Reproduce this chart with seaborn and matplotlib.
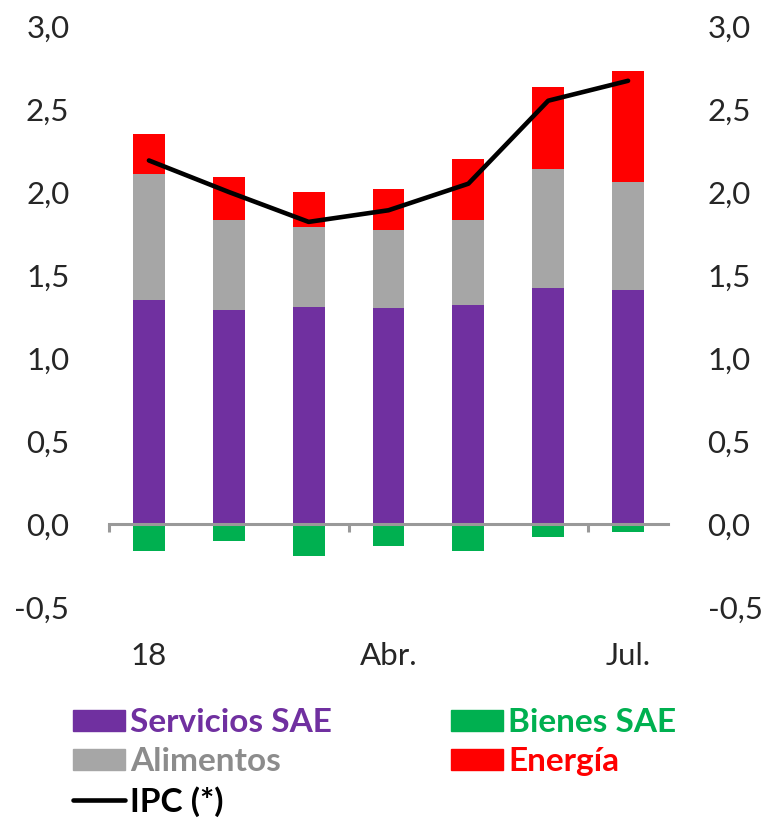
import numpy as np
import pandas as pd
import matplotlib
matplotlib.use("Agg")
import matplotlib.pyplot as plt
from matplotlib.patches import Patch
from matplotlib.lines import Line2D
from matplotlib.ticker import FuncFormatter
import seaborn as sns

# monthly contributions to headline inflation (pp), 2018
months = ["Ene.", "Feb.", "Mar.", "Abr.", "May.", "Jun.", "Jul."]
servicios = [1.35, 1.29, 1.31, 1.30, 1.32, 1.42, 1.41]
alimentos = [0.76, 0.54, 0.48, 0.47, 0.51, 0.72, 0.65]
energia = [0.24, 0.26, 0.21, 0.25, 0.37, 0.49, 0.67]
bienes = [-0.16, -0.10, -0.19, -0.13, -0.16, -0.08, -0.05]
ipc = [2.19, 2.00, 1.82, 1.89, 2.05, 2.55, 2.67]

tick_pos = [0, 3, 6]
tick_labels = ["18", "Abr.", "Jul."]

PURPLE = "#7030A0"
GREEN = "#00B050"
GREY = "#A6A6A6"
RED = "#FF0000"
AXIS_GREY = "#999999"

sns.set_style("white")
plt.rcParams["font.family"] = ["Lato", "DejaVu Sans"]

df = pd.DataFrame({
    "mes": months,
    "servicios": servicios,
    "alimentos": alimentos,
    "energia": energia,
    "bienes": bienes,
    "ipc": ipc,
})
# cumulative tops for the positive stack (drawn back to front)
df["top_serv"] = df["servicios"]
df["top_alim"] = df["top_serv"] + df["alimentos"]
df["top_ener"] = df["top_alim"] + df["energia"]

fig = plt.figure(figsize=(7.61, 8.19), dpi=100)
ax = fig.add_axes([109 / 761, 1 - 607 / 819, 559 / 761, 581 / 819])

bar_kw = dict(x="mes", ax=ax, width=0.4, saturation=1, errorbar=None, linewidth=0)
sns.barplot(data=df, y="top_ener", color=RED, **bar_kw)
sns.barplot(data=df, y="top_alim", color=GREY, **bar_kw)
sns.barplot(data=df, y="top_serv", color=PURPLE, **bar_kw)
sns.barplot(data=df, y="bienes", color=GREEN, **bar_kw)

sns.lineplot(data=df, x="mes", y="ipc", ax=ax, color="black", linewidth=3.3,
             solid_capstyle="round", solid_joinstyle="round", sort=False)

ax.set_xlim(-0.5, 6.5)
ax.set_ylim(-0.5, 3.0)
ax.set_xlabel("")
ax.set_ylabel("")

for side in ["top", "right", "left"]:
    ax.spines[side].set_visible(False)
ax.spines["bottom"].set_position(("data", 0))
ax.spines["bottom"].set_color(AXIS_GREY)
ax.spines["bottom"].set_linewidth(2.2)
ax.spines["bottom"].set_zorder(5)

# boundary ticks on the zero line, labels further down
ax.set_xticks([-0.5, 2.5, 5.5])
ax.set_xticklabels([])
ax.tick_params(axis="x", which="major", direction="out", length=6, width=2.2,
               color=AXIS_GREY, bottom=True)
ax.set_xticks(tick_pos, minor=True)
ax.set_xticklabels(tick_labels, minor=True)
ax.tick_params(axis="x", which="minor", length=0, pad=85, labelsize=22.5)

ax.set_yticks(np.arange(-0.5, 3.01, 0.5))
ax.yaxis.set_major_formatter(FuncFormatter(lambda v, p: f"{v:.1f}".replace(".", ",")))
ax.tick_params(axis="y", left=False, right=False, labelleft=True, labelright=True,
               pad=25, labelsize=22.5)

leg_kw = dict(loc="upper left", frameon=False, borderpad=0, borderaxespad=0,
              handlelength=1.56, handleheight=0.6, handletextpad=0.15,
              labelspacing=0.3, prop={"weight": "bold", "size": 24})

h1 = [Patch(color=PURPLE), Patch(color=GREY),
      Line2D([], [], color="black", linewidth=3.3, solid_capstyle="round")]
leg1 = fig.legend(h1, ["Servicios SAE", "Alimentos", "IPC (*)"],
                  bbox_to_anchor=(73 / 761, 1 - 708 / 819), **leg_kw)
for t, c in zip(leg1.get_texts(), [PURPLE, "#8C8C8C", "black"]):
    t.set_color(c)

h2 = [Patch(color=GREEN), Patch(color=RED)]
leg2 = fig.legend(h2, ["Bienes SAE", "Energía"],
                  bbox_to_anchor=(451 / 761, 1 - 708 / 819), **leg_kw)
for t, c in zip(leg2.get_texts(), [GREEN, RED]):
    t.set_color(c)

fig.savefig("out.png", dpi=100)
